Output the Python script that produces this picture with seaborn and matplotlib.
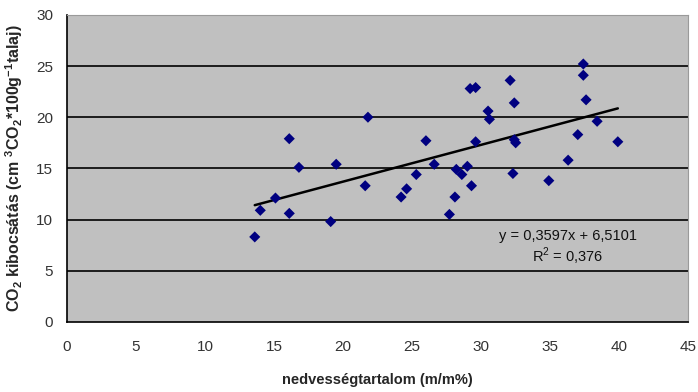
import numpy as np
import pandas as pd
import matplotlib
matplotlib.use('Agg')
import matplotlib.pyplot as plt
import seaborn as sns

# ---- data ----
moisture = [13.6, 14.0, 15.1, 16.1, 16.1, 16.8, 19.1, 19.5, 21.6, 21.8,
            24.2, 24.6, 25.3, 26.0, 26.6, 27.7, 28.1, 28.2, 28.6, 29.0,
            29.3, 29.2, 29.6, 29.6, 30.5, 30.6, 32.1, 32.4, 32.4, 32.5,
            32.3, 34.9, 36.3, 37.0, 37.4, 37.4, 37.6, 38.4, 39.9]
co2 = [8.3, 10.9, 12.1, 17.9, 10.6, 15.1, 9.8, 15.4, 13.3, 20.0,
       12.2, 13.0, 14.4, 17.7, 15.4, 10.5, 12.2, 14.9, 14.4, 15.2,
       13.3, 22.8, 22.9, 17.6, 20.6, 19.8, 23.6, 21.4, 17.8, 17.5,
       14.5, 13.8, 15.8, 18.3, 25.2, 24.1, 21.7, 19.6, 17.6]
slope, intercept, r2 = 0.3597, 6.5101, 0.376

x_ticks = [0, 5, 10, 15, 20, 25, 30, 35, 40, 45]
y_ticks = [0, 5, 10, 15, 20, 25, 30]

df = pd.DataFrame({'x': moisture, 'y': co2})
trend = pd.DataFrame({'x': [min(moisture), max(moisture)]})
trend['y'] = slope * trend['x'] + intercept

# ---- style ----
sns.set_style('white')
plt.rcParams['font.family'] = ['Liberation Sans', 'DejaVu Sans']
plt.rcParams['mathtext.fontset'] = 'custom'
plt.rcParams['mathtext.rm'] = 'Liberation Sans'
plt.rcParams['mathtext.bf'] = 'Liberation Sans:bold'

fig = plt.figure(figsize=(6.98, 3.92), dpi=100)
ax = fig.add_axes([0.096, 0.179, 0.89, 0.783])
ax.set_facecolor('#c0c0c0')

ax.set_xlim(0, 45)
ax.set_ylim(0, 30)
ax.set_xticks(x_ticks)
ax.set_yticks(y_ticks)
for v in y_ticks[1:-1]:
    ax.axhline(v, color='black', lw=1.2, zorder=1)

sns.lineplot(data=trend, x='x', y='y', color='black', lw=1.8, ax=ax, zorder=2)
sns.scatterplot(data=df, x='x', y='y', marker='D', color='#000080', s=32,
                edgecolor='none', ax=ax, zorder=3)

ax.text(36.3, 8.4, f'y = {slope}x + {intercept}'.replace('.', ','),
        ha='center', va='center', fontsize=10.5, color='#111111')
ax.text(36.3, 6.4, f'R$^2$ = {r2}'.replace('.', ','),
        ha='center', va='center', fontsize=10.5, color='#111111')

ax.set_xlabel('nedvességtartalom (m/m%)', fontsize=10.5, fontweight='bold', labelpad=14)
ax.set_ylabel(r'CO$_\mathbf{2}$ kibocsátás (cm $^\mathbf{3}$CO$_\mathbf{2}$*100g$^\mathbf{-1}$talaj)',
              fontsize=11.5, fontweight='bold', labelpad=8)

for s in ['left', 'bottom']:
    ax.spines[s].set_color('black')
    ax.spines[s].set_linewidth(1.2)
for s in ['top', 'right']:
    ax.spines[s].set_color('#9a9a9a')
    ax.spines[s].set_linewidth(0.8)
ax.tick_params(axis='both', direction='out', length=4, width=1, color='black',
               labelsize=11, labelcolor='#333333', pad=6)
ax.tick_params(axis='x', pad=9)

fig.savefig('out.png', dpi=100)
